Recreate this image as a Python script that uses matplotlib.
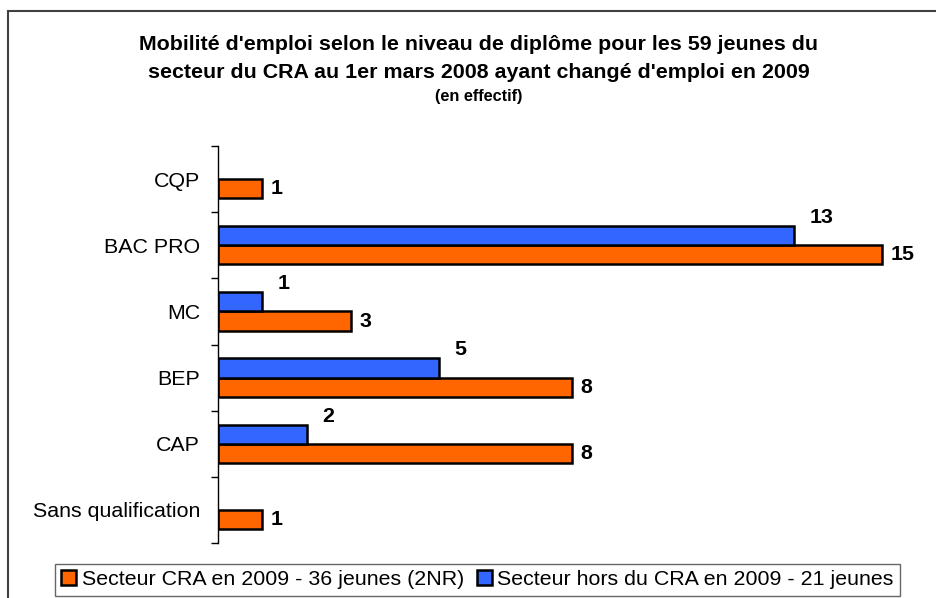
import matplotlib
matplotlib.use("Agg")
import matplotlib.pyplot as plt
from matplotlib.patches import Rectangle, Patch
import numpy as np

plt.rcParams['font.family'] = ['Liberation Sans', 'DejaVu Sans']

categories = ["CQP", "BAC PRO", "MC", "BEP", "CAP", "Sans qualification"]
cra_2009 = [1, 15, 3, 8, 8, 1]
hors_cra_2009 = [None, 13, 1, 5, 2, None]
series_labels = ["Secteur CRA en 2009 - 36 jeunes (2NR)",
                 "Secteur hors du CRA en 2009 - 21 jeunes"]
title_lines = ["Mobilité d'emploi selon le niveau de diplôme pour les 59 jeunes du",
               "secteur du CRA au 1er mars 2008 ayant changé d'emploi en 2009"]
subtitle = "(en effectif)"

ORANGE = "#FF6600"
BLUE = "#3366FF"
FS = 15.4

W, H = 937, 598
fig = plt.figure(figsize=(W / 100, H / 100), dpi=100)

# outer border
fig.patches.append(Rectangle((8 / W, -0.05), 1.0, 1 - 11 / H + 0.05,
                             transform=fig.transFigure, fill=False,
                             edgecolor="#404040", linewidth=1.5, zorder=0))

ax_left, ax_right = 218 / W, (218 + 44.3 * 16) / W
ax_bottom, ax_top = 1 - 543 / H, 1 - 146 / H
ax = fig.add_axes([ax_left, ax_bottom, ax_right - ax_left, ax_top - ax_bottom])

n = len(categories)
y = np.arange(n)
bh = 0.29
for i in range(n):
    v = cra_2009[i]
    ax.barh(y[i] + bh / 2, v, height=bh, color=ORANGE, edgecolor="black", linewidth=1.8)
    ax.annotate(str(v), (v, y[i] + bh / 2), xytext=(6, 0), textcoords="offset points",
                ha="left", va="center", fontsize=FS, fontweight="bold")
    b = hors_cra_2009[i]
    if b is not None:
        ax.barh(y[i] - bh / 2, b, height=bh, color=BLUE, edgecolor="black", linewidth=1.8)
        ax.annotate(str(b), (b, y[i] - bh / 2), xytext=(11, 13), textcoords="offset points",
                    ha="left", va="center", fontsize=FS, fontweight="bold")

ax.set_xlim(0, 16)
ax.set_ylim(n - 0.5, -0.5)
ax.set_yticks(y)
ax.set_yticklabels(categories, fontsize=FS)
ax.tick_params(axis="y", which="major", length=0, pad=13)
ax.set_yticks(np.arange(n + 1) - 0.5, minor=True)
ax.tick_params(axis="y", which="minor", length=5, width=1, direction="out")
ax.set_xticks([])
for s in ["top", "right", "bottom"]:
    ax.spines[s].set_visible(False)
ax.spines["left"].set_linewidth(1)

fig.text(479 / W, 1 - 45 / H, title_lines[0], ha="center", va="center",
         fontsize=FS, fontweight="bold")
fig.text(479 / W, 1 - 72 / H, title_lines[1], ha="center", va="center",
         fontsize=FS, fontweight="bold")
fig.text(479 / W, 1 - 97 / H, subtitle, ha="center", va="center",
         fontsize=11.7, fontweight="bold")

handles = [Patch(facecolor=ORANGE, edgecolor="black", linewidth=1.8),
           Patch(facecolor=BLUE, edgecolor="black", linewidth=1.8)]
leg = fig.legend(handles, series_labels, loc="upper left",
                 bbox_to_anchor=(55 / W, 1 - 564 / H), ncol=2, fontsize=FS,
                 frameon=True, fancybox=False, edgecolor="#404040",
                 handlelength=0.7, handleheight=0.7, handletextpad=0.25,
                 columnspacing=0.6, borderpad=0.3, borderaxespad=0)
leg.get_frame().set_linewidth(1)

fig.savefig("out.png", dpi=100)
